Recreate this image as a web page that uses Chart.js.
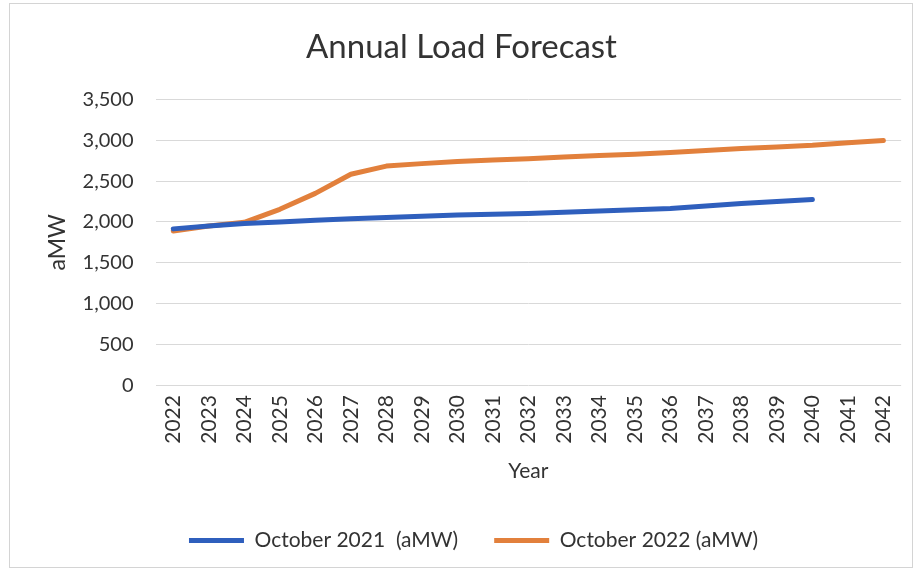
<!DOCTYPE html>
<html>
<head>
<meta charset="utf-8">
<script src="https://cdn.jsdelivr.net/npm/chart.js@4/dist/chart.umd.min.js"></script>
<style>
html,body{margin:0;padding:0;background:#fff;}
#wrap{position:absolute;left:0;top:0;width:919px;height:573px;}
#frame{position:absolute;left:9px;top:3px;width:902px;height:563px;border:1px solid #d4d4d4;pointer-events:none;}
</style>
</head>
<body>
<div id="wrap"><canvas id="c" width="919" height="573"></canvas></div>
<div id="frame"></div>
<script>
const years = ['2022','2023','2024','2025','2026','2027','2028','2029','2030','2031','2032','2033','2034','2035','2036','2037','2038','2039','2040','2041','2042'];
const oct2021 = [1915,1950,1980,2000,2020,2040,2055,2070,2085,2095,2105,2120,2135,2150,2165,2195,2225,2250,2275,null,null];
const oct2022 = [1890,1950,1995,2155,2350,2585,2685,2715,2740,2760,2775,2795,2815,2830,2850,2875,2900,2920,2940,2970,3000];
const yTicks = [0,500,1000,1500,2000,2500,3000,3500];

const FONT = "Lato, 'Open Sans', sans-serif";
const txt = '#333333';

const legendShift = {
  id: 'legendShift',
  afterLayout(chart) {
    if (chart.legend) { chart.legend.left += 12; chart.legend.right += 12; }
  }
};

new Chart(document.getElementById('c'), {
  type: 'line',
  data: {
    labels: years,
    datasets: [
      {label: 'October 2021  (aMW)', data: oct2021, borderColor: '#2f5fbd', backgroundColor: '#2f5fbd', borderWidth: 5, pointRadius: 0, tension: 0, borderCapStyle: 'round', borderJoinStyle: 'round', spanGaps: false},
      {label: 'October 2022 (aMW)', data: oct2022, borderColor: '#e2803c', backgroundColor: '#e2803c', borderWidth: 5, pointRadius: 0, tension: 0, borderCapStyle: 'round', borderJoinStyle: 'round'}
    ]
  },
  plugins: [legendShift],
  options: {
    responsive: false,
    animation: false,
    devicePixelRatio: 1,
    layout: {padding: {left: 21, right: 17, top: 18, bottom: 12}},
    plugins: {
      title: {display: true, text: 'Annual Load Forecast', color: txt, font: {family: FONT, size: 33, weight: 'normal'}, padding: {top: 10, bottom: 32}},
      legend: {
        position: 'bottom',
        labels: {
          color: txt,
          font: {family: FONT, size: 21},
          usePointStyle: true,
          pointStyle: 'line',
          pointStyleWidth: 55,
          boxWidth: 55,
          padding: 36
        }
      },
      tooltip: {enabled: false}
    },
    scales: {
      x: {
        offset: true,
        grid: {display: false, drawTicks: false},
        border: {display: false},
        ticks: {color: txt, font: {family: FONT, size: 21}, minRotation: 90, maxRotation: 90, padding: 10, autoSkip: false},
        title: {display: true, text: 'Year', color: txt, font: {family: FONT, size: 21}, padding: {top: 5, bottom: 10}}
      },
      y: {
        min: 0, max: 3500,
        afterBuildTicks: (a) => { a.ticks = yTicks.map(v => ({value: v})); },
        grid: {color: '#d9d9d9', lineWidth: 1, drawTicks: false},
        border: {display: false},
        ticks: {color: txt, font: {family: FONT, size: 20}, padding: 22, callback: v => v.toLocaleString('en-US')},
        title: {display: true, text: 'aMW', color: txt, font: {family: FONT, size: 23}, padding: {top: 23, bottom: -11}}
      }
    }
  }
});
</script>
</body>
</html>
